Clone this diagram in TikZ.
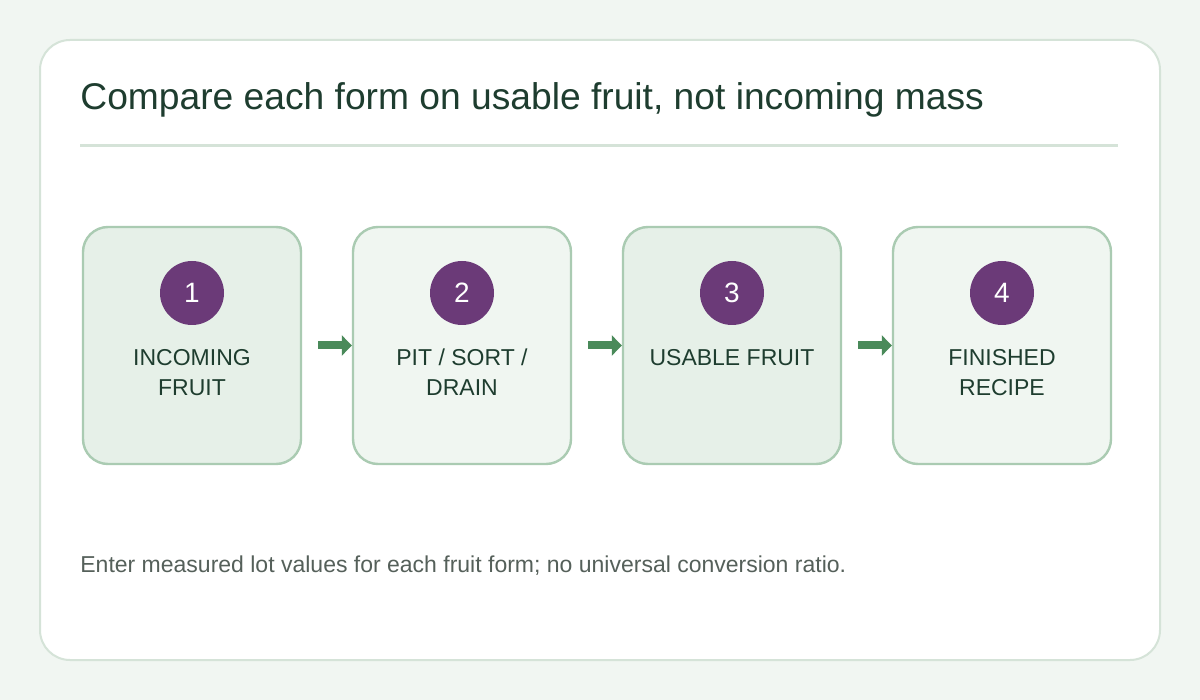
\documentclass[tikz,border=0pt]{standalone}
\usepackage{fontspec}
\setmainfont{Liberation Sans}
\usetikzlibrary{positioning,arrows.meta}
\definecolor{pagebg}{HTML}{F1F6F2}
\definecolor{cardline}{HTML}{D5E3D8}
\definecolor{stepdark}{HTML}{E6F0E8}
\definecolor{steplight}{HTML}{F0F6F1}
\definecolor{stepline}{HTML}{AACBB2}
\definecolor{badge}{HTML}{6B3A78}
\definecolor{titletext}{HTML}{1E3D2F}
\definecolor{arrowgreen}{HTML}{4A8A5A}
\definecolor{notetext}{HTML}{55605A}
\tikzset{
  stage/.style ={draw=stepline, line width=1.2pt, rounded corners=12.5pt,
                minimum width=109pt, minimum height=118.5pt},
  badge/.style ={circle, fill=badge, minimum size=32pt, inner sep=0pt,
                 text=white, font=\fontsize{14}{14}\selectfont},
  stagetext/.style ={align=center, text=titletext, font=\fontsize{11.5}{15}\selectfont},
  link/.style ={-{Triangle[length=5pt,width=10pt]}, line width=4pt, arrowgreen}
}
\begin{document}
\begin{tikzpicture}[x=0.5pt, y=-0.5pt]
  \useasboundingbox[fill=pagebg] (0,0) rectangle (1200,700);
  \draw[fill=white, draw=cardline, line width=1pt, rounded corners=15pt]
    (40,40) rectangle (1160,660);
  \node[anchor=west, inner sep=0pt, text=titletext, font=\fontsize{18.6}{18.6}\selectfont] (title)
    at (80,100) {Compare each form on usable fruit, not incoming mass};
  \draw[cardline, line width=1.5pt] (80,146) -- (1118,146);

  \node[stage, fill=stepdark]  (s1) at (192,345.5) {};
  \node[stage, fill=steplight] (s2) at (462,345.5) {};
  \node[stage, fill=stepdark]  (s3) at (732,345.5) {};
  \node[stage, fill=steplight] (s4) at (1002,345.5) {};

  \node[badge] (b1) at (192,293) {1};
  \node[badge] (b2) at (462,293) {2};
  \node[badge] (b3) at (732,293) {3};
  \node[badge] (b4) at (1002,293) {4};

  \node[stagetext, anchor=north] (l1) at (192,342) {INCOMING\\FRUIT};
  \node[stagetext, anchor=north] (l2) at (462,342) {PIT / SORT /\\DRAIN};
  \node[stagetext, anchor=north] (l3) at (732,342) {USABLE FRUIT};
  \node[stagetext, anchor=north] (l4) at (1002,342) {FINISHED\\RECIPE};

  \draw[link] ([xshift=8pt]s1.east) -- (s2.west);
  \draw[link] ([xshift=8pt]s2.east) -- (s3.west);
  \draw[link] ([xshift=8pt]s3.east) -- (s4.west);

  \node[anchor=west, inner sep=0pt, text=notetext, font=\fontsize{11.5}{11.5}\selectfont] (note)
    at (80,566) {Enter measured lot values for each fruit form; no universal conversion ratio.};
\end{tikzpicture}
\end{document}
